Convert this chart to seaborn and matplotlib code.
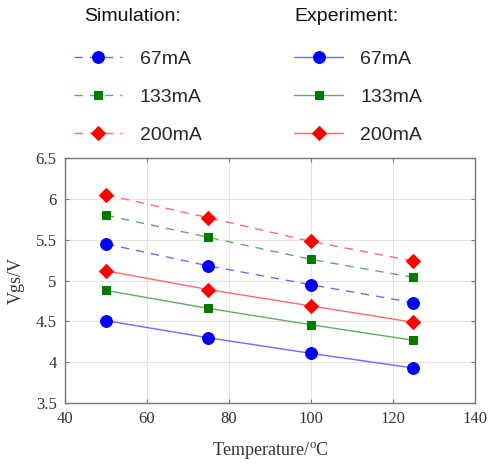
import matplotlib
matplotlib.use("Agg")
import matplotlib.pyplot as plt
import seaborn as sns

# data
temps = [50, 75, 100, 125]
sim_67 = [5.45, 5.18, 4.95, 4.73]
sim_133 = [5.80, 5.53, 5.26, 5.04]
sim_200 = [6.05, 5.77, 5.48, 5.24]
exp_67 = [4.51, 4.30, 4.11, 3.93]
exp_133 = [4.88, 4.66, 4.46, 4.27]
exp_200 = [5.12, 4.89, 4.69, 4.49]
labels = ["67mA", "133mA", "200mA"]

sns.set_theme(style="whitegrid")
plt.rcParams["font.family"] = ["Liberation Serif", "DejaVu Serif"]

fig = plt.figure(figsize=(4.89, 4.65), dpi=100)
ax = fig.add_axes([0.133, 0.133, 0.838, 0.527])

line_cols = ["#6b6bff", "#5fae5f", "#ff6b6b"]
mark_cols = ["#0000ff", "#007a00", "#ff0000"]
markers = ["o", "s", "D"]
msizes = [8.5, 5.5, 7.5]

sim_handles = []
for vals, lc, mc, mk, ms in zip([sim_67, sim_133, sim_200], line_cols, mark_cols, markers, msizes):
    sns.lineplot(x=temps, y=vals, ax=ax, color=lc, linewidth=1.0, marker=mk,
                 markersize=ms, markerfacecolor=mc, markeredgecolor=mc)
    ln = ax.lines[-1]
    ln.set_dashes((6, 5))
    sim_handles.append(ln)

exp_handles = []
for vals, lc, mc, mk, ms in zip([exp_67, exp_133, exp_200], line_cols, mark_cols, markers, msizes):
    sns.lineplot(x=temps, y=vals, ax=ax, color=lc, linewidth=1.0, marker=mk,
                 markersize=ms, markerfacecolor=mc, markeredgecolor=mc)
    exp_handles.append(ax.lines[-1])

ax.set_xlim(40, 140)
ax.set_ylim(3.5, 6.5)
ax.set_xticks([40, 60, 80, 100, 120, 140])
ax.set_yticks([3.5, 4, 4.5, 5, 5.5, 6, 6.5])
ax.set_yticklabels(["3.5", "4", "4.5", "5", "5.5", "6", "6.5"])
ax.set_facecolor("white")
ax.grid(True, color="#e3e3e3", linewidth=0.8)
for sp in ax.spines.values():
    sp.set_color("#777777")
    sp.set_linewidth(1.0)
ax.tick_params(direction="in", length=3, width=0.8, color="#777777",
               labelsize=12, labelcolor="#333333", top=True, right=True,
               bottom=True, left=True, pad=6)
ax.set_xlabel("Temperature/$\\mathregular{^{o}}$C", fontsize=13, color="#333333", labelpad=9)
ax.set_ylabel("Vgs/V", fontsize=13, color="#333333", labelpad=8)

# legend headers as plain text, entries as two frameless legends
hdr = {"family": "Liberation Sans", "size": 14}
fig.text(0.271, 0.965, "Simulation:", ha="center", va="center", fontdict=hdr, color="#111111")
fig.text(0.708, 0.965, "Experiment:", ha="center", va="center", fontdict=hdr, color="#111111")

leg_kw = dict(frameon=False, loc="upper left", handlelength=2.5, handletextpad=0.9,
              labelspacing=1.05, borderaxespad=0,
              prop={"family": "Liberation Sans", "size": 14})
fig.legend(sim_handles, labels, bbox_to_anchor=(0.135, 0.909), **leg_kw)
fig.legend(exp_handles, labels, bbox_to_anchor=(0.586, 0.909), **leg_kw)

fig.savefig("out.png", dpi=100)
